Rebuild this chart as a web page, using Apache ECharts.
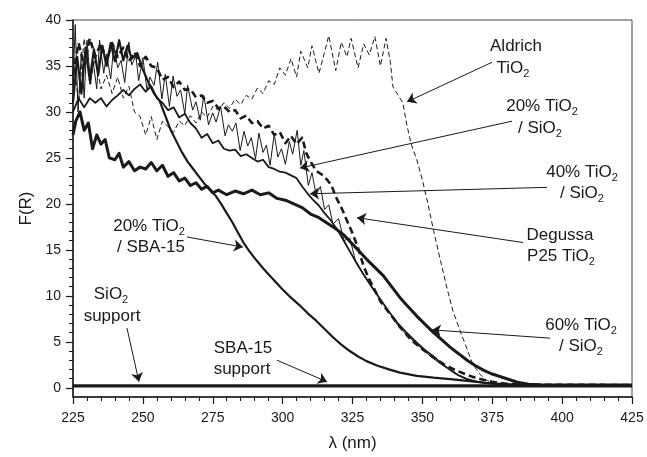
<!DOCTYPE html>
<html>
<head>
<meta charset="utf-8">
<script src="https://cdn.jsdelivr.net/npm/echarts@6/dist/echarts.min.js"></script>
<style>
    html, body { margin: 0; padding: 0; background: #fff; }
    #chart { width: 647px; height: 457px; }
</style>
</head>
<body>
<div id="chart"></div>
<script>
// data: [lambda (nm), F(R)]
let aldrich = [[225,36],[227,31],[229,38],[231,33],[233,36],[235,32.5],[237,34],[239,32],[241,33.8],[243,31.5],[245,32.8],[247,30],[249,29.5],[251,27.5],[253,29.5],[255,27],[257,29],[259,28.4],[261,27.8],[263,29],[265,28.5],[267,29.6],[269,28.8],[271,30],[273,29.4],[275,30.6],[277,30.2],[279,31],[281,30.4],[283,31.4],[285,30.8],[287,31.8],[289,31.4],[291,32.6],[293,32],[295,33.4],[297,33],[299,34.8],[301,34],[303,35.8],[305,33.8],[306.5,36.6],[309,34.8],[310.5,37.2],[313,34.2],[315,36.5],[316.5,38.3],[319,34.5],[321,37.6],[323,36],[324.5,38],[327,34.8],[329,37.4],[331,36.2],[333,38.2],[335,35],[337,38],[338.5,35.5],[339.5,32.7],[341,32],[343,31],[344.5,28.5],[346,26.5],[348,24.8],[350,22.6],[352,20],[354,17.1],[356.5,13.8],[359,10.6],[361,8.3],[363.5,6.2],[366,4.2],[368,2.6],[370.5,1.5],[373,0.8],[377,0.45],[382,0.32],[425,0.3]];

let degussa = [[225,34],[227,37.5],[229,35],[231,38],[233,36],[235,37.5],[237,35.5],[239,37.5],[241,36],[243,37],[245,35.5],[247,36.5],[249,35],[251,36],[253,35],[255,34.8],[257,33.5],[259,33.8],[261,32.7],[263,33.3],[265,32.4],[267,32.5],[269,31.6],[271,31.8],[273,31],[275,31.2],[277,30.4],[279,30.6],[281,30],[283,30.2],[285,29.3],[287,29.6],[289,28.8],[291,29],[293,28.2],[295,28.5],[297,27.5],[299,27.8],[301,26.6],[303,27.4],[305,26.5],[307,27.2],[308.5,25.5],[310,24.6],[312,23.6],[314,23.2],[316,22.6],[317.5,22],[319,20.8],[321,19.6],[323,18.2],[325,16.8],[327,15.2],[329,13.2],[331,11.8],[333,10.6],[335,9.4],[338,8.2],[342,6.6],[346,5.2],[350,4.2],[354,3.3],[358,2.5],[362,1.9],[366,1.4],[370,1],[375,0.65],[380,0.45],[385,0.35],[425,0.3]];

let tio20SiO2 = [[225,33],[225.8,39.5],[226.8,30],[228,36.5],[229,31.5],[230,37.8],[231.3,33],[232.2,35.5],[233.5,32.5],[234.5,37.8],[236,34.2],[237,36.3],[238.5,33.6],[239.6,37.2],[241,34.8],[242.2,35.6],[243.5,33.2],[245,37.6],[246,35.1],[247.5,36.1],[248.5,33.4],[250,35.9],[251.5,32.3],[252.5,33.8],[254,32.9],[255.3,35.4],[256.8,31.4],[258,34.1],[259.5,30.6],[260.8,33.9],[262.2,31.7],[263.5,32.4],[265,29.8],[266,32.9],[267.8,30.2],[269,31.1],[270.5,29.1],[271.8,31.8],[273.5,28.6],[275,29.9],[276.2,28.9],[277.8,30.6],[279.4,27.4],[280.6,28.6],[282,27.9],[283.3,28.8],[284.8,25.8],[286.2,27.9],[287.5,26.3],[288.8,27.2],[290.3,24.9],[291.5,27.7],[293,25.6],[294.2,26.4],[295.5,24.2],[297,27.6],[298.3,25.1],[299.6,26],[301,24.3],[302.4,26.8],[303.6,25.4],[305.2,28],[306.5,24.2],[307.6,25.8],[309.2,22],[310.5,23.4],[312,21],[313.5,21.9],[315,19.4],[316.5,19.9],[318,17.8],[320,18.4],[322,16],[324,16.3],[326,13.9],[328,12.8],[330,11.9],[332,11],[335,9.6],[338,8.3],[341,6.9],[344,5.9],[347,5],[350,4.2],[353,3.4],[356,2.7],[359,2.1],[362,1.5],[365,1.05],[368,0.8],[372,0.55],[376,0.42],[380,0.35],[425,0.3]];

let tio40SiO2 = [[225,30],[227,31.5],[229,30.5],[231,31.5],[233,31],[235,31.5],[237,30.6],[239,31.3],[241,31.8],[243,32.4],[245,31.8],[247,32.5],[249,33],[251,32.2],[253,32.8],[255,31.5],[257,31],[259,30.2],[261,30.5],[263,29.4],[265,29.8],[267,28.8],[269,28.2],[271,27.2],[273,27.6],[275,26.6],[277,26.9],[279,26],[281,25.8],[283,25.9],[285,25.2],[287,25.4],[289,25],[291,24.6],[293,24.8],[295,24],[297,23.8],[299,23.5],[301,23.4],[303,23.1],[305,22.8],[307,21.9],[309,21.1],[311,20.4],[313,19.8],[315,19],[317,18.3],[320,17],[323,15.4],[326,13.8],[329,12.3],[332,10.9],[335,9.6],[338,8.3],[341,7.1],[344,6.1],[348,4.9],[351,4.1],[354,3.4],[357,2.6],[360,1.95],[363,1.35],[366,0.95],[369,0.7],[372,0.55],[376,0.42],[380,0.35],[425,0.3]];

let tio60SiO2 = [[225,27.5],[226,29],[227.5,30],[229,28],[230.5,28.8],[232,26],[233.5,27.5],[235,26.5],[236.5,27],[238,25],[240,24.8],[241.5,25.5],[243,24],[245,24.6],[247,23.6],[249,24],[251,23.8],[253,24.5],[255,23.6],[257,24.2],[259,23],[261,23.4],[263,22.5],[265,22.8],[267,22],[269,22.3],[271,21.6],[273,21.9],[275,21.2],[277,21.5],[280,21],[283,21.4],[286,21.1],[289,21.5],[292,21],[295,21.2],[298,20.6],[301,20.4],[304,20],[307,19.6],[310,18.9],[313,18.5],[316,17.9],[319,17.3],[322,16.6],[326,15.3],[330,14],[333,13.1],[336,12.2],[339,11],[342,9.8],[345,8.8],[348,7.8],[351,6.9],[354,6],[357,5.2],[360,4.4],[363,3.7],[366,3],[369,2.4],[372,1.9],[375,1.5],[378,1.2],[381,0.9],[384,0.6],[388,0.4],[392,0.3],[425,0.3]];

let tio20SBA = [[225,31],[226.5,36],[228,32],[229.5,37],[231,33.5],[232.5,36.8],[234,34],[235.5,37.2],[237,35],[238.5,37.5],[240,35.5],[241.5,37.8],[243,35.6],[244.5,37.2],[246,35.8],[248,36.4],[250,34.6],[252,33.2],[254,32],[256,31.2],[258,29.6],[260,28],[262,26.8],[264,25.6],[266,24.6],[268,23.8],[270,23],[272,22.2],[274,21.6],[276,20.9],[278,20],[280,19],[282,18],[284,16.9],[286,15.8],[288,14.9],[290,14.1],[293,13],[296,12],[300,10.7],[303,9.8],[306,9],[309,8.1],[312,7.3],[315,6.4],[318,5.5],[321,4.7],[324,4],[327,3.4],[330,2.9],[334,2.4],[338,2],[342,1.65],[348,1.3],[354,1.1],[360,0.95],[366,0.75],[372,0.55],[378,0.42],[385,0.33],[425,0.3]];

let sio2Support = [[225,0.2],[425,0.2]];
let sbaSupport = [[225,0.25],[425,0.25]];

// y ticks
let yMajor = [0, 5, 10, 15, 20, 25, 30, 35, 40];
let yMinor = [];
for (let i = 0; i <= 40; i++) yMinor.push(i);

// arrows [from, to]
let arrows = [
    [[374.9, 35.4], [344.5, 31.1]],
    [[382.1, 29.0], [306.2, 23.9]],
    [[394.6, 21.8], [309.8, 21.1]],
    [[386.0, 15.8], [326.6, 18.5]],
    [[395.7, 5.4], [353.4, 6.3]],
    [[265.8, 16.4], [285.8, 15.3]],
    [[244.3, 6.5], [248.6, 0.65]],
    [[298.0, 3.0], [315.9, 0.65]]
];

// annotation text lines
let labels = [
    [516, 46, 'Aldrich'], [513, 68, 'TiO{s|2}'],
    [542, 106, '20% TiO{s|2}'], [540, 128, '/ SiO{s|2}'],
    [582, 172, '40% TiO{s|2}'], [582, 193, '/ SiO{s|2}'],
    [560, 235, 'Degussa'], [561, 256, 'P25 TiO{s|2}'],
    [581, 325, '60% TiO{s|2}'], [581, 346, '/ SiO{s|2}'],
    [149, 226, '20% TiO{s|2}'], [151, 247, '/ SBA-15'],
    [111, 294, 'SiO{s|2}'], [112, 316, 'support'],
    [243, 348, 'SBA-15'], [242, 369, 'support']
];

const FONT = '"Liberation Sans", Arial, Helvetica, sans-serif';
const INK = '#1a1a1a';

function lineSeries(name, data, width, dash) {
    return {
        name: name,
        type: 'line',
        data: data,
        showSymbol: false,
        symbol: 'none',
        smooth: false,
        lineStyle: {
            color: INK,
            width: width,
            type: dash || 'solid',
            join: 'round'
        },
        silent: true
    };
}

let myChart = echarts.init(document.getElementById('chart'));

let series = [
    lineSeries('SiO2 support', sio2Support, 3),
    lineSeries('SBA-15 support', sbaSupport, 2),
    lineSeries('20% TiO2 / SBA-15', tio20SBA, 2.2),
    lineSeries('60% TiO2 / SiO2', tio60SiO2, 3),
    lineSeries('40% TiO2 / SiO2', tio40SiO2, 1.8),
    lineSeries('20% TiO2 / SiO2', tio20SiO2, 1),
    lineSeries('Degussa P25 TiO2', degussa, 2.6, [7, 4]),
    lineSeries('Aldrich TiO2', aldrich, 1, [5, 3])
];

series[0].markLine = {
    silent: true,
    animation: false,
    symbol: ['none', 'arrow'],
    symbolSize: 9,
    label: { show: false },
    lineStyle: { color: INK, width: 1, type: 'solid' },
    emphasis: { disabled: true },
    data: arrows.map(a => [{ coord: a[0] }, { coord: a[1] }])
};

let option = {
    animation: false,
    backgroundColor: '#fff',
    grid: {
        left: 73,
        right: 15,
        top: 20,
        bottom: 60,
        show: true,
        borderColor: '#444',
        borderWidth: 1
    },
    xAxis: {
        type: 'value',
        min: 225,
        max: 425,
        interval: 25,
        name: 'λ (nm)',
        nameLocation: 'middle',
        nameGap: 38,
        nameTextStyle: { color: INK, fontSize: 17, fontFamily: FONT },
        axisLine: { show: true, onZero: false, lineStyle: { color: INK, width: 1.5 } },
        axisTick: { show: true, inside: false, length: 7, lineStyle: { color: INK, width: 1.2 } },
        minorTick: { show: true, splitNumber: 5, length: 4, lineStyle: { color: INK, width: 1 } },
        axisLabel: { color: INK, fontSize: 14, fontFamily: FONT, margin: 14 },
        splitLine: { show: false }
    },
    yAxis: [{
        type: 'value',
        min: -1,
        max: 40,
        name: 'F(R)',
        nameLocation: 'middle',
        nameGap: 38,
        nameRotate: 90,
        nameTextStyle: { color: INK, fontSize: 17, fontFamily: FONT },
        axisLine: { show: true, onZero: false, lineStyle: { color: INK, width: 1.5 } },
        axisTick: { show: true, inside: false, length: 7, customValues: yMajor, lineStyle: { color: INK, width: 1.2 } },
        axisLabel: { color: INK, fontSize: 14, fontFamily: FONT, margin: 12, customValues: yMajor },
        splitLine: { show: false }
    }, {
        type: 'value',
        min: -1,
        max: 40,
        position: 'left',
        axisLine: { show: false },
        axisTick: { show: true, inside: false, length: 4, customValues: yMinor, lineStyle: { color: INK, width: 1 } },
        axisLabel: { show: false },
        splitLine: { show: false }
    }],
    graphic: labels.map(l => ({
        type: 'text',
        x: l[0],
        y: l[1],
        silent: true,
        style: {
            text: '{n|' + l[2].replace(/\{s\|2\}/g, '}{s|2}{n|') + '}',
            align: 'center',
            verticalAlign: 'middle',
            fill: INK,
            fontFamily: FONT,
            rich: {
                n: { fontSize: 17, lineHeight: 22, fontFamily: FONT, fill: INK },
                s: { fontSize: 11, lineHeight: 11, verticalAlign: 'bottom', fontFamily: FONT, fill: INK }
            }
        }
    })),
    series: series
};

myChart.setOption(option);
</script>
</body>
</html>
